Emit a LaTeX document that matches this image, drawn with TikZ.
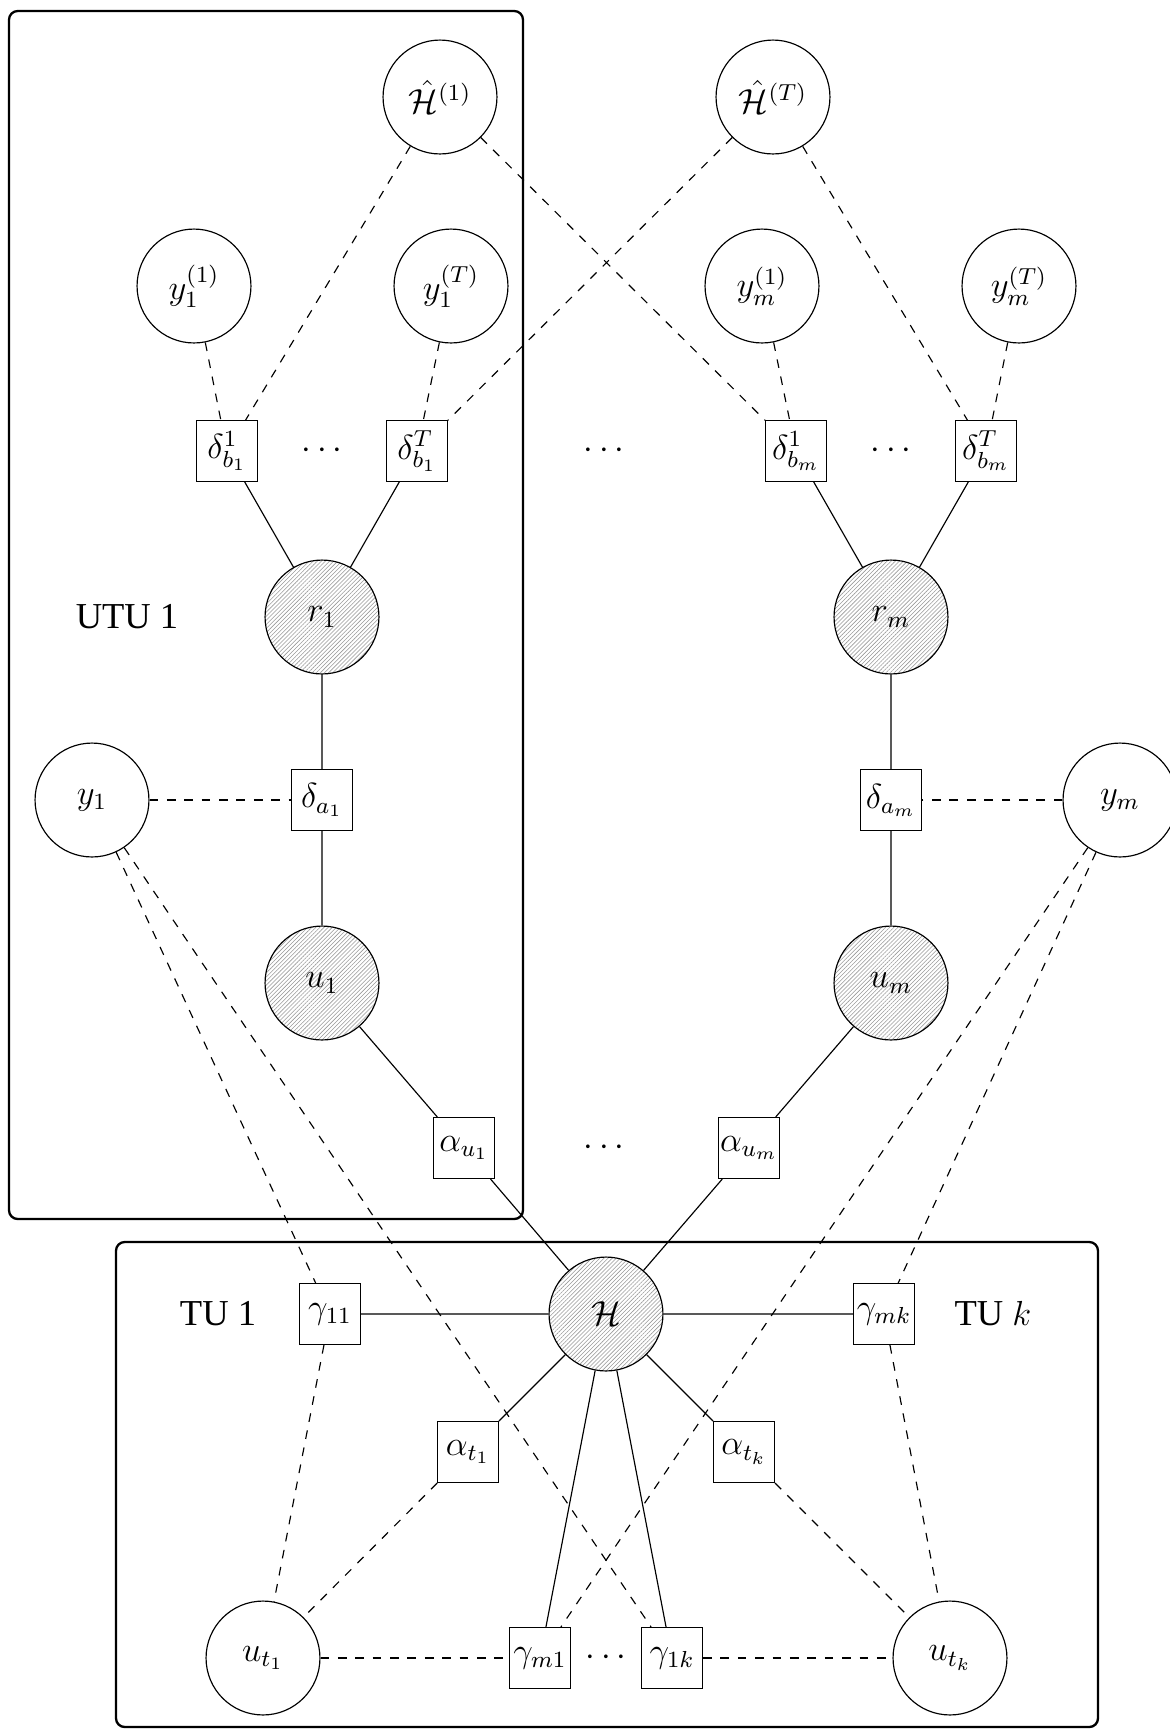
\documentclass[tikz,border=0pt,12pt]{standalone}
\usepackage{fontspec}
\newfontfamily\unitfont{Liberation Serif}
\usetikzlibrary{patterns.meta}

\tikzset{
  obsnode/.style={draw,circle,minimum size=39.3pt,inner sep=0pt},
  latnode/.style={obsnode,pattern={Lines[angle=45,distance=1pt,line width=0.2pt]},pattern color=gray!80},
  facnode/.style={draw,rectangle,minimum size=21pt,inner sep=0.5pt},
  platebox/.style={draw,thick,rounded corners=3pt},
  unitlabel/.style={font=\unitfont\fontsize{12.6}{15}\selectfont}
}

\begin{document}
\begin{tikzpicture}[x=0.345pt,y=0.345pt,yscale=-1,xscale=1]
\useasboundingbox (0,0) rectangle (1170,1731);

%Plates
\draw[platebox] (9,11) rectangle (523,1219);
\draw[platebox] (116,1242) rectangle (1098,1727);

%Top layer
\node[obsnode] (Hh1) at (440,97) {$\hat{\mathcal{H}}^{(1)}$};
\node[obsnode] (HhT) at (773,97) {$\hat{\mathcal{H}}^{(T)}$};
\node[obsnode] (y11) at (194,286) {$y_1^{(1)}$};
\node[obsnode] (y1T) at (451,286) {$y_1^{(T)}$};
\node[obsnode] (ym1) at (762,286) {$y_m^{(1)}$};
\node[obsnode] (ymT) at (1019,286) {$y_m^{(T)}$};
\node[facnode] (db11) at (227,451) {$\delta_{b_1}^1$};
\node (dots1) at (322,451) {$\cdots$};
\node[facnode] (db1T) at (417,451) {$\delta_{b_1}^T$};
\node (dots2) at (604,451) {$\cdots$};
\node[facnode] (dbm1) at (796,451) {$\delta_{b_m}^1$};
\node (dots3) at (891,451) {$\cdots$};
\node[facnode] (dbmT) at (986,451) {$\delta_{b_m}^T$};

%UTU columns
\node[unitlabel] (utu1) at (127,617) {UTU 1};
\node[latnode] (r1) at (322,617) {$r_1$};
\node[latnode] (rm) at (891,617) {$r_m$};
\node[obsnode] (y1) at (92,800) {$y_1$};
\node[facnode] (da1) at (322,800) {$\delta_{a_1}$};
\node[facnode] (dam) at (891,800) {$\delta_{a_m}$};
\node[obsnode] (ym) at (1120,800) {$y_m$};
\node[latnode] (u1) at (322,983) {$u_1$};
\node[latnode] (um) at (891,983) {$u_m$};
\node[facnode] (au1) at (464,1148) {$\alpha_{u_1}$};
\node (dots4) at (604,1148) {$\cdots$};
\node[facnode] (aum) at (749,1148) {$\alpha_{u_m}$};

%TU part
\node[latnode] (H) at (606,1314) {$\mathcal{H}$};
\node[unitlabel] (tu1) at (218,1314) {TU 1};
\node[facnode] (g11) at (330,1314) {$\gamma_{11}$};
\node[facnode] (gmk) at (884,1314) {$\gamma_{mk}$};
\node[unitlabel] (tuk) at (993,1314) {TU $k$};
\node[facnode] (at1) at (468,1452) {$\alpha_{t_1}$};
\node[facnode] (atk) at (744,1452) {$\alpha_{t_k}$};
\node[obsnode] (ut1) at (263,1658) {$u_{t_1}$};
\node[facnode] (gm1) at (540,1658) {$\gamma_{m1}$};
\node (dots5) at (606,1658) {$\cdots$};
\node[facnode] (g1k) at (672,1658) {$\gamma_{1k}$};
\node[obsnode] (utk) at (950,1658) {$u_{t_k}$};

%Straight Lines
\draw (db11) -- (r1) (db1T) -- (r1) (r1) -- (da1) -- (u1) -- (au1) -- (H);
\draw (dbm1) -- (rm) (dbmT) -- (rm) (rm) -- (dam) -- (um) -- (aum) -- (H);
\draw (g11) -- (H) -- (gmk) (at1) -- (H) -- (atk) (gm1) -- (H) -- (g1k);

%Dashed Lines
\draw[dashed] (Hh1) -- (db11) (Hh1) -- (dbm1) (HhT) -- (db1T) (HhT) -- (dbmT);
\draw[dashed] (y11) -- (db11) (y1T) -- (db1T) (ym1) -- (dbm1) (ymT) -- (dbmT);
\draw[dashed] (y1) -- (da1) (ym) -- (dam);
\draw[dashed] (y1) -- (g11) (y1) -- (g1k) (ym) -- (gmk) (ym) -- (gm1);
\draw[dashed] (g11) -- (ut1) (at1) -- (ut1) (gmk) -- (utk) (atk) -- (utk);
\draw[dashed] (ut1) -- (gm1) (g1k) -- (utk);

\end{tikzpicture}
\end{document}
